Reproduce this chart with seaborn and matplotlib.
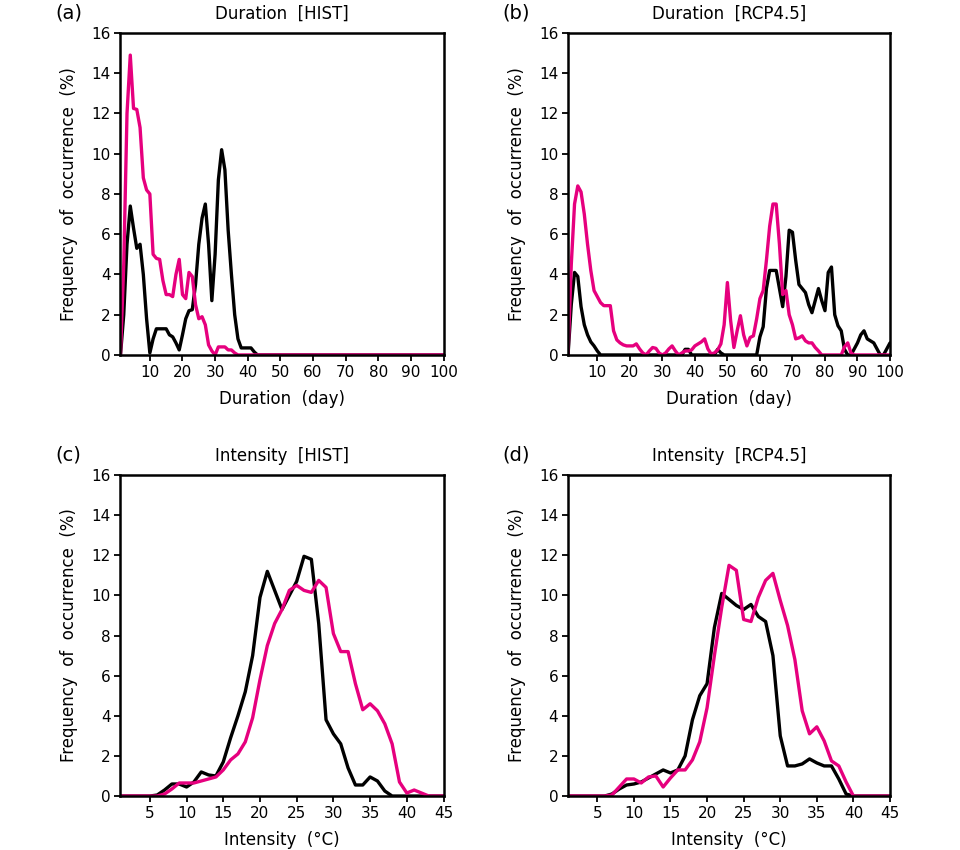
import pandas as pd
import seaborn as sns
import matplotlib.pyplot as plt

# 1. Data (frequency of occurrence in %)
# Duration [HIST]
hist_dur_days_black = [1, 2, 3, 4, 5, 6, 7, 8, 9, 10, 11, 12, 13, 14, 15, 16, 17, 18, 19, 20,
                       21, 22, 23, 24, 25, 26, 27, 28, 29, 30, 31, 32, 33, 34, 35, 36, 37, 38, 39, 40,
                       41, 42, 43, 100]
hist_dur_black = [0, 2.0, 5.5, 7.4, 6.3, 5.3, 5.5, 4.0, 1.8, 0.1, 0.8, 1.3, 1.3, 1.3, 1.3, 1.0, 0.9, 0.6, 0.25, 1.0,
                  1.8, 2.2, 2.25, 3.5, 5.5, 6.8, 7.5, 5.5, 2.7, 5.0, 8.7, 10.2, 9.2, 6.2, 4.0, 2.0, 0.8, 0.35, 0.35, 0.35,
                  0.35, 0.15, 0, 0]
hist_dur_days_pink = [1, 2, 3, 4, 5, 6, 7, 8, 9, 10, 11, 12, 13, 14, 15, 16, 17, 18, 19, 20,
                      21, 22, 23, 24, 25, 26, 27, 28, 29, 30, 31, 32, 33, 34, 35, 36, 37, 100]
hist_dur_pink = [0, 4.5, 12.0, 14.9, 12.25, 12.2, 11.3, 8.8, 8.2, 8.0, 5.0, 4.8, 4.75, 3.7, 3.0, 3.0, 2.9, 4.0, 4.75, 3.0,
                 2.8, 4.1, 3.9, 2.5, 1.8, 1.9, 1.5, 0.5, 0.2, 0, 0.4, 0.4, 0.4, 0.25, 0.25, 0.1, 0, 0]

# Duration [RCP4.5], days 1..100
rcp_dur_days = list(range(1, 101))
rcp_dur_black = [0, 2.5, 4.1, 3.9, 2.4, 1.5, 1.0, 0.65, 0.45, 0.2,
                 0, 0, 0, 0, 0, 0, 0, 0, 0, 0,
                 0, 0, 0, 0, 0, 0, 0, 0, 0, 0,
                 0, 0, 0, 0, 0, 0, 0.28, 0.28, 0, 0,
                 0, 0, 0, 0, 0, 0, 0.28, 0.1, 0, 0,
                 0, 0, 0, 0, 0, 0, 0, 0, 0, 0.9,
                 1.4, 3.3, 4.2, 4.2, 4.2, 3.3, 2.4, 3.9, 6.2, 6.1,
                 4.7, 3.5, 3.3, 3.1, 2.5, 2.1, 2.7, 3.3, 2.7, 2.2,
                 4.1, 4.37, 2.0, 1.45, 1.2, 0.28, 0, 0, 0.3, 0.6,
                 1.0, 1.2, 0.8, 0.7, 0.6, 0.3, 0, 0, 0.3, 0.6]
rcp_dur_pink = [0, 4.5, 7.5, 8.4, 8.1, 7.0, 5.5, 4.2, 3.2, 2.9,
                2.6, 2.45, 2.45, 2.45, 1.2, 0.75, 0.6, 0.5, 0.45, 0.45,
                0.45, 0.55, 0.3, 0.1, 0, 0.2, 0.37, 0.33, 0.1, 0,
                0.1, 0.3, 0.45, 0.2, 0, 0.1, 0.2, 0.2, 0.25, 0.45,
                0.55, 0.65, 0.8, 0.3, 0.05, 0.1, 0.25, 0.55, 1.5, 3.6,
                1.7, 0.37, 1.2, 1.95, 1.0, 0.45, 0.87, 0.95, 1.8, 2.8,
                3.2, 4.7, 6.4, 7.5, 7.5, 5.5, 3.0, 3.2, 2.0, 1.5,
                0.8, 0.85, 0.95, 0.7, 0.6, 0.6, 0.37, 0.2, 0, 0,
                0, 0, 0, 0, 0, 0.4, 0.6, 0.1, 0, 0,
                0, 0, 0, 0, 0, 0, 0, 0, 0, 0]

# Intensity, degrees 1..45
int_deg = list(range(1, 46))
hist_int_black = [0, 0, 0, 0, 0, 0.05, 0.3, 0.6, 0.6, 0.45,
                  0.7, 1.2, 1.05, 1.0, 1.7, 2.9, 4.0, 5.2, 7.0, 9.9,
                  11.2, 10.25, 9.3, 10.0, 10.7, 11.95, 11.8, 8.6, 3.8, 3.1,
                  2.6, 1.4, 0.55, 0.55, 0.95, 0.75, 0.25, 0, 0, 0,
                  0, 0, 0, 0, 0]
hist_int_pink = [0, 0, 0, 0, 0, 0, 0.1, 0.35, 0.65, 0.65,
                 0.65, 0.75, 0.85, 0.95, 1.3, 1.8, 2.1, 2.7, 3.9, 5.8,
                 7.5, 8.6, 9.3, 10.25, 10.5, 10.25, 10.15, 10.75, 10.4, 8.1,
                 7.2, 7.2, 5.6, 4.3, 4.6, 4.25, 3.6, 2.6, 0.7, 0.15,
                 0.3, 0.15, 0, 0, 0]
rcp_int_black = [0, 0, 0, 0, 0, 0, 0.1, 0.35, 0.55, 0.6,
                 0.7, 0.9, 1.1, 1.3, 1.15, 1.3, 2.0, 3.8, 5.0, 5.6,
                 8.4, 10.1, 9.8, 9.5, 9.3, 9.55, 8.95, 8.7, 7.0, 3.0,
                 1.5, 1.5, 1.6, 1.85, 1.65, 1.5, 1.5, 0.85, 0.1, 0,
                 0, 0, 0, 0, 0]
rcp_int_pink = [0, 0, 0, 0, 0, 0, 0.05, 0.45, 0.85, 0.85,
                0.65, 0.95, 1.0, 0.45, 0.9, 1.3, 1.3, 1.8, 2.7, 4.4,
                7.0, 9.4, 11.5, 11.25, 8.8, 8.7, 9.9, 10.75, 11.1, 9.75,
                8.5, 6.8, 4.25, 3.1, 3.45, 2.75, 1.75, 1.5, 0.7, 0,
                0, 0, 0, 0, 0]

colors = {"black": "black", "pink": "#E6007E"}


def make_df(xb, yb, xp, yp):
    d1 = pd.DataFrame({"x": xb, "y": yb, "run": "black"})
    d2 = pd.DataFrame({"x": xp, "y": yp, "run": "pink"})
    return pd.concat([d1, d2], ignore_index=True)


# 2. Style
sns.set_style("ticks")
plt.rcParams["font.family"] = ["DejaVu Sans"]
plt.rcParams["font.size"] = 11
for key in ["text.color", "axes.labelcolor", "xtick.color", "ytick.color", "axes.edgecolor"]:
    plt.rcParams[key] = "black"

fig = plt.figure(figsize=(9.6, 8.5), dpi=100)
ax_a = fig.add_axes([0.1255, 0.5824, 0.3365, 0.3788])
ax_b = fig.add_axes([0.5917, 0.5824, 0.3354, 0.3788])
ax_c = fig.add_axes([0.1255, 0.0635, 0.3365, 0.3776])
ax_d = fig.add_axes([0.5917, 0.0635, 0.3354, 0.3776])

panels = [
    (ax_a, make_df(hist_dur_days_black, hist_dur_black, hist_dur_days_pink, hist_dur_pink),
     "Duration  [HIST]", "(a)", "dur"),
    (ax_b, make_df(rcp_dur_days, rcp_dur_black, rcp_dur_days, rcp_dur_pink),
     "Duration  [RCP4.5]", "(b)", "dur"),
    (ax_c, make_df(int_deg, hist_int_black, int_deg, hist_int_pink),
     "Intensity  [HIST]", "(c)", "int"),
    (ax_d, make_df(int_deg, rcp_int_black, int_deg, rcp_int_pink),
     "Intensity  [RCP4.5]", "(d)", "int"),
]

# 3. Draw the four panels
for ax, df, title, tag, kind in panels:
    sns.lineplot(data=df, x="x", y="y", hue="run", palette=colors, estimator=None,
                 sort=False, legend=False, linewidth=2.4, ax=ax)
    ax.set_ylim(0, 16)
    ax.set_yticks(range(0, 17, 2))
    if kind == "dur":
        ax.set_xlim(1, 100)
        ax.set_xticks(range(10, 101, 10))
        ax.set_xlabel("Duration  (day)", fontsize=12, va="center")
    else:
        ax.set_xlim(1, 45)
        ax.set_xticks(range(5, 46, 5))
        ax.set_xlabel("Intensity  (°C)", fontsize=12, va="center")
    ax.set_ylabel("Frequency  of  occurrence  (%)", fontsize=12, va="center")
    ax.yaxis.set_label_coords(-0.16, 0.5)
    ax.xaxis.set_label_coords(0.5, -0.137)
    ax.set_title(title, fontsize=12, pad=10)
    ax.tick_params(direction="out", length=4, width=1.3, pad=3, labelsize=11, colors="black")
    for s in ax.spines.values():
        s.set_linewidth(1.8)
        s.set_color("black")
        s.set_visible(True)
    pos = ax.get_position()
    fig.text(pos.x0 - 0.068, pos.y1 + 0.024, tag, fontsize=14, va="center", ha="left")

plt.savefig("out.png", dpi=100)
